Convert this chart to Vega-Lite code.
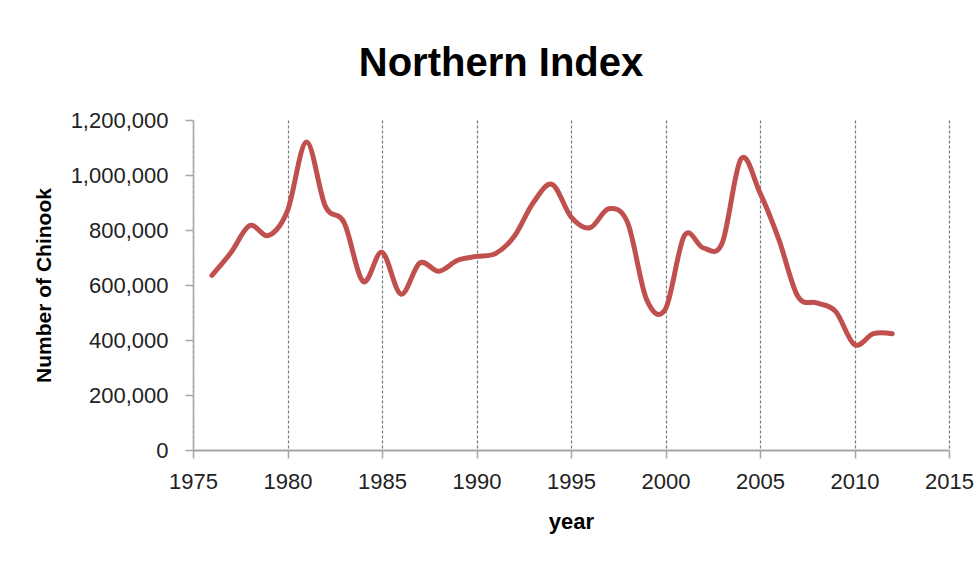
{
  "$schema": "https://vega.github.io/schema/vega-lite/v6.json",
  "autosize": "none",
  "width": 756,
  "height": 330,
  "padding": {"left": 193, "top": 120, "right": 27, "bottom": 115},
  "background": "white",
  "title": {
    "text": "Northern Index",
    "font": "Liberation Sans",
    "fontSize": 40,
    "fontWeight": "bold",
    "color": "#000000",
    "anchor": "middle",
    "frame": "group",
    "dx": -70,
    "offset": 25
  },
  "data": {
    "values": [
      {"year": 1976, "chinook": 635000},
      {"year": 1977, "chinook": 717000},
      {"year": 1978, "chinook": 816000},
      {"year": 1979, "chinook": 780000},
      {"year": 1980, "chinook": 870000},
      {"year": 1981, "chinook": 1120000},
      {"year": 1982, "chinook": 887000},
      {"year": 1983, "chinook": 826000},
      {"year": 1984, "chinook": 613000},
      {"year": 1985, "chinook": 719000},
      {"year": 1986, "chinook": 567000},
      {"year": 1987, "chinook": 680000},
      {"year": 1988, "chinook": 650000},
      {"year": 1989, "chinook": 690000},
      {"year": 1990, "chinook": 704000},
      {"year": 1991, "chinook": 714000},
      {"year": 1992, "chinook": 777000},
      {"year": 1993, "chinook": 899000},
      {"year": 1994, "chinook": 966000},
      {"year": 1995, "chinook": 848000},
      {"year": 1996, "chinook": 808000},
      {"year": 1997, "chinook": 877000},
      {"year": 1998, "chinook": 826000},
      {"year": 1999, "chinook": 547000},
      {"year": 2000, "chinook": 513000},
      {"year": 2001, "chinook": 780000},
      {"year": 2002, "chinook": 735000},
      {"year": 2003, "chinook": 753000},
      {"year": 2004, "chinook": 1059000},
      {"year": 2005, "chinook": 935000},
      {"year": 2006, "chinook": 765000},
      {"year": 2007, "chinook": 559000},
      {"year": 2008, "chinook": 535000},
      {"year": 2009, "chinook": 504000},
      {"year": 2010, "chinook": 383000},
      {"year": 2011, "chinook": 423000},
      {"year": 2012, "chinook": 423000}
    ]
  },
  "mark": {
    "type": "line",
    "interpolate": "cardinal",
    "tension": 0,
    "color": "#c0504d",
    "strokeWidth": 5,
    "strokeCap": "round",
    "strokeJoin": "round"
  },
  "encoding": {
    "x": {
      "field": "year",
      "type": "quantitative",
      "scale": {"domain": [1975, 2015], "nice": false, "zero": false},
      "axis": {
        "title": "year",
        "values": [1975, 1980, 1985, 1990, 1995, 2000, 2005, 2010, 2015],
        "format": "d",
        "grid": true,
        "gridColor": "#7a7a7a",
        "gridDash": [3, 2],
        "gridWidth": 1.2,
        "domainColor": "#a6a6a6",
        "domainWidth": 2,
        "tickColor": "#a6a6a6",
        "tickWidth": 1.5,
        "tickSize": 8,
        "labelPadding": 13,
        "labelFont": "Liberation Sans",
        "labelFontSize": 22,
        "labelColor": "#222222",
        "labelFlush": false,
        "titleFont": "Liberation Sans",
        "titleFontSize": 22,
        "titleFontWeight": "bold",
        "titleColor": "#000000",
        "titlePadding": 19
      }
    },
    "y": {
      "field": "chinook",
      "type": "quantitative",
      "scale": {"domain": [0, 1200000], "nice": false},
      "axis": {
        "title": "Number of Chinook",
        "values": [0, 200000, 400000, 600000, 800000, 1000000, 1200000],
        "format": ",d",
        "grid": false,
        "domainColor": "#a6a6a6",
        "domainWidth": 1.5,
        "tickColor": "#a6a6a6",
        "tickWidth": 1.5,
        "tickSize": 8,
        "labelPadding": 17,
        "labelFont": "Liberation Sans",
        "labelFontSize": 22,
        "labelColor": "#222222",
        "labelFlush": false,
        "titleFont": "Liberation Sans",
        "titleFontSize": 21,
        "titleFontWeight": "bold",
        "titleColor": "#000000",
        "titlePadding": 16
      }
    }
  },
  "config": {
    "view": {"stroke": null}
  }
}
